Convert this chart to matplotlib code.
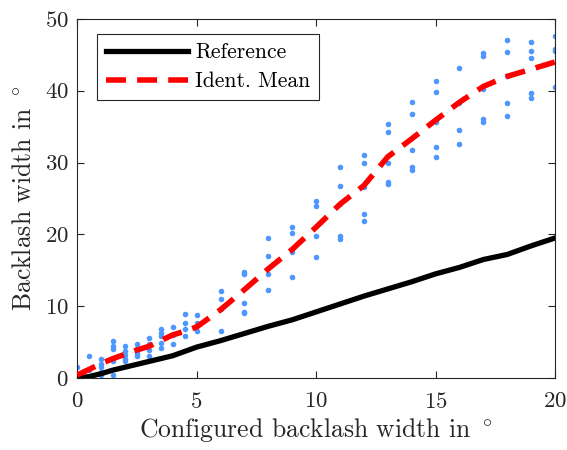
import matplotlib
matplotlib.use("Agg")
import matplotlib.pyplot as plt
import numpy as np

plt.rcParams["font.family"] = ["cmr10", "DejaVu Serif"]
plt.rcParams["mathtext.fontset"] = "cm"
plt.rcParams["axes.formatter.use_mathtext"] = True

# Configured backlash width (x) for the trials and identified widths per setting
trial_x = [0, 0.5, 1, 1.5, 2, 2.5, 3, 3.5, 4, 4.5, 5, 6, 7, 8, 9, 10,
           11, 12, 13, 14, 15, 16, 17, 18, 19, 20]
trial_y = [
    [1.5, 0.3, 0.0, 0.1],
    [3.0, 1.1],
    [2.6, 2.0, 1.5, 0.9, 0.4],
    [5.1, 4.4, 4.0, 2.3, 0.4],
    [4.4, 3.8, 3.2, 2.6, 2.3],
    [4.8, 4.1, 3.5, 3.0],
    [5.6, 4.8, 3.9, 3.1],
    [6.8, 6.3, 5.9, 4.9, 4.2],
    [7.1, 6.0, 4.7],
    [8.9, 7.7, 6.8, 5.8],
    [8.8, 7.7, 6.6],
    [12.1, 11.0, 9.6, 6.5],
    [14.8, 14.5, 10.4, 9.2, 9.0],
    [19.5, 17.0, 14.5, 12.3],
    [21.0, 20.2, 17.6, 14.1],
    [24.7, 23.9, 19.8, 16.8],
    [29.4, 26.8, 24.2, 19.8, 19.4],
    [31.1, 29.9, 26.6, 22.9, 21.8],
    [35.3, 34.2, 29.9, 27.3, 27.0],
    [38.4, 36.8, 31.8, 29.4, 29.0],
    [41.4, 39.8, 35.7, 32.2, 30.8],
    [43.2, 38.3, 34.5, 32.6],
    [45.2, 44.9, 40.3, 36.0, 35.6],
    [47.0, 45.4, 42.1, 38.3, 36.5],
    [46.8, 45.5, 44.5, 39.7, 39.0],
    [47.6, 45.8, 45.5, 40.5],
]
reference = [0.0, 0.2, 0.6, 1.1, 1.5, 1.9, 2.3, 2.7, 3.1, 3.7, 4.3, 5.2, 6.2,
             7.2, 8.1, 9.2, 10.3, 11.4, 12.4, 13.4, 14.5, 15.4, 16.5, 17.2,
             18.4, 19.5]
ident_mean = [0.4, 1.2, 2.0, 2.7, 3.3, 3.9, 4.4, 5.2, 6.0, 6.5, 7.1, 9.5,
              12.3, 15.2, 17.9, 21.0, 24.2, 26.8, 30.8, 33.3, 35.9, 38.4,
              40.6, 42.0, 43.0, 44.0]

fig = plt.figure(figsize=(5.67, 4.5), dpi=100)
ax = fig.add_axes([0.136, 0.16, 0.843, 0.798])

pts_x = np.concatenate([[x] * len(ys) for x, ys in zip(trial_x, trial_y)])
pts_y = np.concatenate(trial_y)
ax.scatter(pts_x, pts_y, s=16, color="#4d97ff", linewidths=0, zorder=2)

ax.plot(trial_x, reference, color="black", lw=3.8, label="Reference", zorder=3)
ax.plot(trial_x, ident_mean, color="red", lw=4, ls=(0, (3.6, 2.0)),
        label="Ident. Mean", zorder=4)

ax.set_xlim(0, 20)
ax.set_ylim(0, 50)
ax.set_xticks([0, 5, 10, 15, 20])
ax.set_yticks([0, 10, 20, 30, 40, 50])
ax.tick_params(direction="in", top=True, right=True, labelsize=16.5,
               length=5, width=0.8, colors="#262626", pad=6)
ax.tick_params(axis="x", pad=10)
for sp in ax.spines.values():
    sp.set_linewidth(0.8)
    sp.set_color("#262626")

ax.set_xlabel(r"Configured backlash width in $^\circ$", fontsize=18.5,
              color="#262626", labelpad=3)
ax.set_ylabel(r"Backlash width in $^\circ$", fontsize=18.5, color="#262626",
              labelpad=6)

leg = ax.legend(loc="upper left", bbox_to_anchor=(0.042, 0.958),
                fontsize=15.5, frameon=True, fancybox=False,
                edgecolor="#262626", framealpha=1, handlelength=3.8,
                borderaxespad=0, borderpad=0.4, labelspacing=0.45,
                handletextpad=0.35)
leg.get_frame().set_linewidth(0.8)

fig.savefig("out.png", dpi=100)
